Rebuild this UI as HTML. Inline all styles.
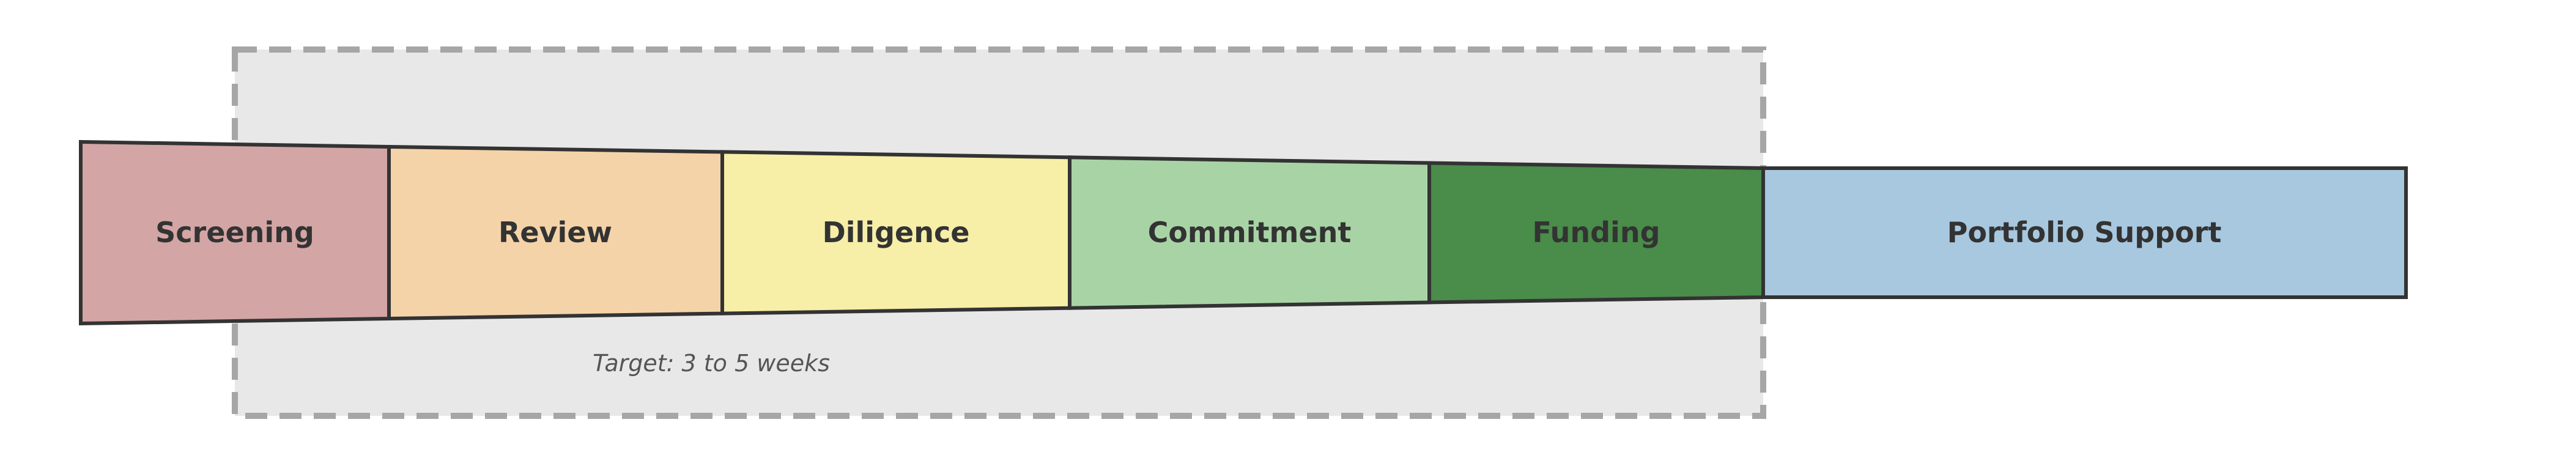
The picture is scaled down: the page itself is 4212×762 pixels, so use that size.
<!DOCTYPE html>
<html><head><style>html,body{margin:0;padding:0;background:#fff;}svg{display:block;}</style></head>
<body>
<svg width="4212" height="762" viewBox="0 0 4212 762" xmlns="http://www.w3.org/2000/svg">
<rect x="384" y="81" width="2499" height="599" fill="#e8e8e8" stroke="#a6a6a6" stroke-width="10" stroke-dasharray="36 20"/>
<g stroke="#333" stroke-width="6" stroke-linejoin="miter">
<polygon points="132,232 636,240 636,521 132,529" fill="#d4a5a5"/>
<polygon points="636,240 1181,248.4 1181,512.6 636,521" fill="#f5d3a8"/>
<polygon points="1181,248.4 1749,257.3 1749,503.7 1181,512.6" fill="#f7eea8"/>
<polygon points="1749,257.3 2337,266.5 2337,494.5 1749,503.7" fill="#a8d4a5"/>
<polygon points="2337,266.5 2883,275 2883,486 2337,494.5" fill="#4a8c4a"/>
<rect x="2883" y="275" width="1051" height="211" fill="#a8c8e0"/>
</g>
<g font-family="DejaVu Sans, Liberation Sans, sans-serif" font-weight="bold" font-size="46" fill="#333" text-anchor="middle" dominant-baseline="central">
<text x="384" y="380">Screening</text>
<text x="908" y="380">Review</text>
<text x="1465" y="380">Diligence</text>
<text x="2043" y="380">Commitment</text>
<text x="2610" y="380">Funding</text>
<text x="3408" y="380">Portfolio Support</text>
</g>
<text x="1163" y="594" font-family="DejaVu Sans, Liberation Sans, sans-serif" font-style="italic" font-size="38" fill="#555" text-anchor="middle" dominant-baseline="central">Target: 3 to 5 weeks</text>
</svg>
</body></html>
